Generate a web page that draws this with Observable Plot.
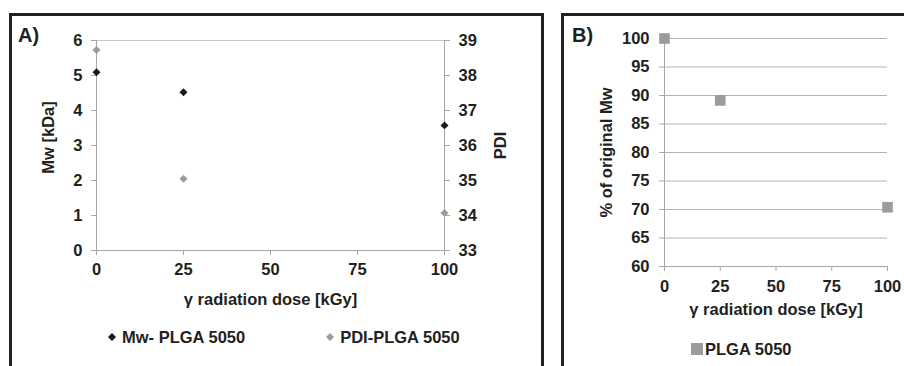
<!DOCTYPE html>
<html>
<head>
<meta charset="utf-8">
<script src="https://cdn.jsdelivr.net/npm/d3@7"></script>
<script src="https://cdn.jsdelivr.net/npm/@observablehq/plot@0.6"></script>
<style>
  html, body { margin: 0; padding: 0; background: #fff; }
  #root { position: relative; width: 904px; height: 366px; overflow: hidden; font-family: "Liberation Sans", Arial, sans-serif; color: #231f20; }
  .box { position: absolute; box-sizing: border-box; border: 3px solid #231f20; }
  .panel { position: absolute; top: 0; }
  .panel text { font-size: 16.5px; font-weight: bold; }
  .tag { position: absolute; font: bold 20px/20px "Liberation Sans", Arial, sans-serif; }
  .legend { position: absolute; display: flex; font: bold 16.5px/16px "Liberation Sans", Arial, sans-serif; }
  .item { display: flex; align-items: center; }
  .item svg { display: block; }
</style>
</head>
<body>
<div id="root"></div>
<script>
// ---- data ----
const dose = [0, 25, 100];
const mw = [5.09, 4.52, 3.575];
const pdi = [38.73, 35.05, 34.07];
const pctMw = [100, 89.14, 70.4];

const xTicks = [0, 25, 50, 75, 100];
const mwTicks = [0, 1, 2, 3, 4, 5, 6];
const pdiTicks = [33, 34, 35, 36, 37, 38, 39];
const pctTicks = [60, 65, 70, 75, 80, 85, 90, 95, 100];

const xLabel = "γ radiation dose [kGy]";
const mwLabel = "Mw [kDa]";
const pdiLabel = "PDI";
const pctLabel = "% of original Mw";
const legendA = [
  {label: "Mw- PLGA 5050", color: "#1a1a1a", shape: "diamond"},
  {label: "PDI-PLGA 5050", color: "#9b9b9b", shape: "diamond"}
];
const legendB = [{label: "PLGA 5050", color: "#9b9b9b", shape: "square"}];

const textColor = "#231f20";
const axisColor = "#a6a6a6";
const gridColorA = "#c8c8c8";
const gridColorB = "#b4b4b4";
const font = {fontFamily: "'Liberation Sans', Arial, sans-serif", fontSize: "16.5px", fontWeight: "bold", color: textColor, background: "transparent", overflow: "visible"};
const fmt = d => String(d);

// map PDI domain onto the Mw domain (secondary axis)
const pdiToMw = d3.scaleLinear().domain(d3.extent(pdiTicks)).range(d3.extent(mwTicks));

const rowsMw = dose.map((d, i) => ({dose: d, v: mw[i]}));
const rowsPdi = dose.map((d, i) => ({dose: d, v: pdiToMw(pdi[i])}));
const rowsPct = dose.map((d, i) => ({dose: d, v: pctMw[i]}));

const root = document.getElementById("root");

// ---- Panel A ----
const plotA = Plot.plot({
  width: 550, height: 366,
  marginLeft: 96, marginRight: 106, marginTop: 40, marginBottom: 116,
  style: font,
  x: {domain: d3.extent(xTicks)},
  y: {domain: d3.extent(mwTicks)},
  marks: [
    Plot.ruleY([d3.max(mwTicks)], {stroke: gridColorA}),
    Plot.ruleY([d3.min(mwTicks)], {stroke: axisColor}),
    Plot.ruleX(d3.extent(xTicks), {stroke: axisColor}),
    Plot.axisX({ticks: xTicks, tickFormat: fmt, tickSize: 5, tickPadding: 8, stroke: axisColor, fill: textColor, fontSize: 16.5,
      label: xLabel, labelAnchor: "center", labelArrow: "none", labelOffset: 54}),
    Plot.axisY({anchor: "left", ticks: mwTicks, tickFormat: fmt, tickSize: 5, tickPadding: 9, stroke: axisColor, fill: textColor, fontSize: 16.5,
      label: mwLabel, labelAnchor: "center", labelArrow: "none", labelOffset: 54}),
    Plot.axisY({anchor: "right", ticks: pdiTicks.map(pdiToMw), tickFormat: (d, i) => pdiTicks[i],
      tickSize: 5, tickPadding: 9, stroke: axisColor, fill: textColor, fontSize: 16.5,
      label: pdiLabel, labelAnchor: "center", labelArrow: "none", labelOffset: 61}),
    Plot.dot(rowsPdi, {x: "dose", y: "v", symbol: "diamond2", r: 3.6, fill: legendA[1].color, stroke: "none"}),
    Plot.dot(rowsMw, {x: "dose", y: "v", symbol: "diamond2", r: 3.6, fill: legendA[0].color, stroke: "none"})
  ]
});
plotA.classList.add("panel");
plotA.style.left = "0px";
root.appendChild(plotA);
// the left title sits a little above the centre of the plot in the original
d3.select(plotA).select('g[aria-label="y-axis label"] text').attr("dx", 8);

// ---- Panel B ----
const plotB = Plot.plot({
  width: 354, height: 366,
  marginLeft: 114, marginRight: 17, marginTop: 38, marginBottom: 100,
  style: font,
  x: {domain: d3.extent(xTicks)},
  y: {domain: d3.extent(pctTicks)},
  marks: [
    Plot.gridY(pctTicks.slice(1), {stroke: gridColorB, strokeOpacity: 1}),
    Plot.ruleY([d3.min(pctTicks)], {stroke: axisColor}),
    Plot.ruleX([d3.min(xTicks)], {stroke: axisColor}),
    Plot.axisX({ticks: xTicks, tickFormat: fmt, tickSize: 5, tickPadding: 9, stroke: axisColor, fill: textColor, fontSize: 16.5,
      label: xLabel, labelAnchor: "center", labelArrow: "none", labelOffset: 48}),
    Plot.axisY({anchor: "left", ticks: pctTicks, tickFormat: fmt, tickSize: 5, tickPadding: 10, stroke: axisColor, fill: textColor, fontSize: 16.5,
      label: pctLabel, labelAnchor: "center", labelArrow: "none", labelOffset: 64}),
    Plot.dot(rowsPct, {x: "dose", y: "v", symbol: "square", r: 6, fill: legendB[0].color, stroke: "none"})
  ]
});
plotB.classList.add("panel");
plotB.style.left = "550px";
root.appendChild(plotB);

// ---- frames, tags, legends ----
function addBox(left, top, width, height) {
  const b = document.createElement("div");
  b.className = "box";
  Object.assign(b.style, {left: left + "px", top: top + "px", width: width + "px", height: height + "px"});
  root.appendChild(b);
}
addBox(9, 13, 535, 400);
addBox(561, 13, 400, 400);

function addTag(text, left, top) {
  const t = document.createElement("div");
  t.className = "tag";
  t.textContent = text;
  Object.assign(t.style, {left: left + "px", top: top + "px"});
  root.appendChild(t);
}
addTag("A)", 18, 25);
addTag("B)", 572, 25);

function symbolSvg(item) {
  const ns = "http://www.w3.org/2000/svg";
  const s = document.createElementNS(ns, "svg");
  const size = item.shape === "square" ? 12 : 8;
  s.setAttribute("width", size);
  s.setAttribute("height", size);
  const p = document.createElementNS(ns, "path");
  p.setAttribute("d", item.shape === "square"
    ? `M0,0H${size}V${size}H0Z`
    : `M${size / 2},0L${size},${size / 2}L${size / 2},${size}L0,${size / 2}Z`);
  p.setAttribute("fill", item.color);
  s.appendChild(p);
  return s;
}
function addLegend(items, left, top, gap, symGap) {
  const L = document.createElement("div");
  L.className = "legend";
  Object.assign(L.style, {left: left + "px", top: top + "px", gap: gap + "px"});
  items.forEach(it => {
    const row = document.createElement("div");
    row.className = "item";
    row.style.gap = symGap + "px";
    row.appendChild(symbolSvg(it));
    const span = document.createElement("span");
    span.textContent = it.label;
    row.appendChild(span);
    L.appendChild(row);
  });
  root.appendChild(L);
}
addLegend(legendA, 108, 328.5, 81, 6);
addLegend(legendB, 691, 340.5, 0, 2);
</script>
</body>
</html>
